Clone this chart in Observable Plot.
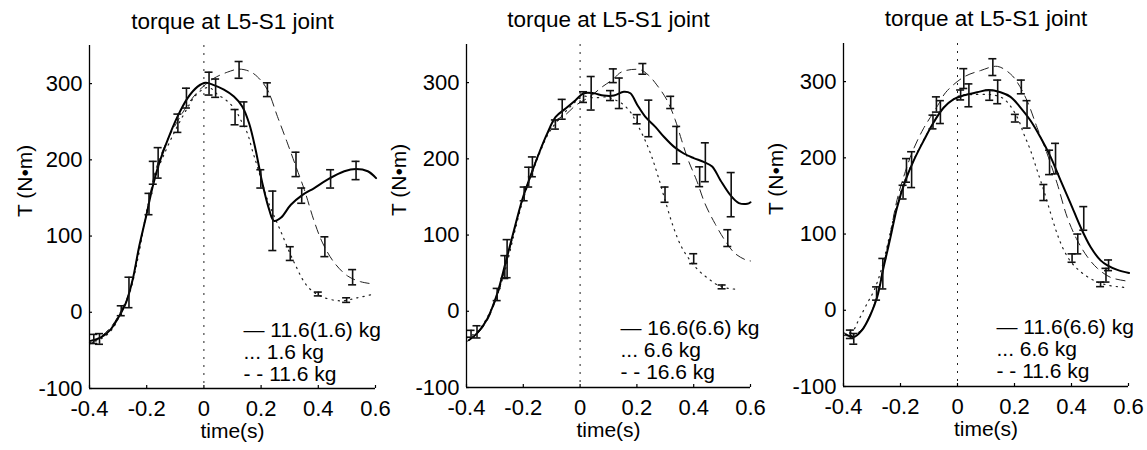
<!DOCTYPE html>
<html>
<head>
<meta charset="utf-8">
<script src="https://cdn.jsdelivr.net/npm/d3@7"></script>
<script src="https://cdn.jsdelivr.net/npm/@observablehq/plot@0.6"></script>
<style>
  html, body { margin: 0; padding: 0; background: #fff; }
  #wrap { position: relative; width: 1147px; height: 450px; overflow: hidden; background: #fff; }
  .pane { position: absolute; top: 0; }
  svg { overflow: visible; }
</style>
</head>
<body>
<div id="wrap"></div>
<script>
// ---------- shared labels / ticks ----------
const title = "torque at L5-S1 joint";
const xLabel = "time(s)";
const yLabel = "T (N\u2022m)";
const xDomain = [-0.4, 0.6];
const yDomain = [-100, 350];
const xTicks = [-0.4, -0.2, 0, 0.2, 0.4, 0.6];
const xTickLabels = ["-0.4", "-0.2", "0", "0.2", "0.4", "0.6"];
const yTicks = [-100, 0, 100, 200, 300];
const yTickLabels = ["-100", "0", "100", "200", "300"];

// ---------- panel 1 : 11.6(1.6) kg ----------
const p1Legend = ["\u2014 11.6(1.6) kg", "... 1.6 kg", "- - 11.6 kg"];
const p1Solid = [[-0.396,-37.5],[-0.36,-33],[-0.325,-22],[-0.296,-5],[-0.272,13],[-0.249,43],[-0.226,87],[-0.202,126],[-0.179,165],[-0.156,196],[-0.127,226],[-0.092,257],[-0.057,281],[-0.022,296],[0.006,301],[0.035,298],[0.070,292],[0.105,283],[0.134,270],[0.158,248],[0.181,213],[0.204,170],[0.228,135],[0.245,120],[0.269,124],[0.304,141],[0.345,154],[0.386,163],[0.432,174],[0.491,185],[0.532,188],[0.573,185],[0.602,176]];
const p1Dotted = [[-0.4,-40],[-0.36,-35],[-0.32,-22],[-0.29,0],[-0.26,25],[-0.23,72],[-0.2,133],[-0.17,178],[-0.13,215],[-0.09,246],[-0.05,273],[-0.035,282],[-0.006,292],[0.018,295],[0.047,286],[0.082,277],[0.111,265],[0.128,253],[0.152,235],[0.169,213],[0.187,191],[0.222,148],[0.269,106],[0.316,65],[0.362,34],[0.409,21],[0.479,15],[0.537,19],[0.596,24]];
const p1Dashed = [[-0.4,-42],[-0.36,-32],[-0.32,-17],[-0.29,2],[-0.26,27],[-0.23,78],[-0.2,130],[-0.17,185],[-0.13,224],[-0.09,252],[-0.05,276],[-0.02,290],[0.0,297],[0.035,307],[0.082,315],[0.123,319],[0.16,316],[0.187,309],[0.222,292],[0.257,257],[0.292,222],[0.322,191],[0.351,161],[0.386,119],[0.415,91],[0.456,65],[0.503,47.5],[0.549,40],[0.596,37]];
const p1SolidBars = [[-0.365,-35,7],[-0.262,26,20],[-0.160,196,20],[-0.061,281,13],[0.041,294,12],[0.140,260,16],[0.241,120,39],[0.342,153,10],[0.443,175,12],[0.532,186,12]];
const p1DottedBars = [[-0.385,-35,6],[-0.289,2,6.5],[-0.192,142,14],[-0.091,248,12],[0.109,256,10],[0.199,175,12],[0.302,77,9],[0.400,24,2.5],[0.499,16,3]];
const p1DashedBars = [[-0.177,183,15],[0.018,300,15],[0.123,318,11],[0.222,292,9],[0.322,194,16],[0.423,86,13],[0.520,46,10]];

// ---------- panel 2 : 16.6(6.6) kg ----------
const p2Legend = ["\u2014 16.6(6.6) kg", "... 6.6 kg", "- - 16.6 kg"];
const p2Solid = [[-0.392,-38],[-0.363,-29],[-0.327,-10],[-0.292,23],[-0.263,63],[-0.233,106],[-0.204,146],[-0.175,177],[-0.145,207],[-0.116,233],[-0.086,255],[-0.051,266],[-0.016,277],[0.013,286],[0.048,286],[0.083,283],[0.119,283],[0.154,288],[0.177,286],[0.201,271],[0.230,255],[0.265,242],[0.295,229],[0.330,216],[0.365,207],[0.400,201],[0.435,196],[0.465,190],[0.494,172],[0.530,152],[0.559,142],[0.589,141],[0.600,143]];
const p2Dotted = [[-0.4,-35],[-0.363,-27],[-0.327,-8],[-0.292,22],[-0.263,55],[-0.233,100],[-0.204,142],[-0.175,175],[-0.145,205],[-0.116,230],[-0.086,247],[-0.051,262],[-0.016,275],[0.013,282],[0.048,280],[0.095,281],[0.125,277],[0.146,273],[0.176,262],[0.199,247],[0.228,225],[0.252,203],[0.275,176.5],[0.299,146],[0.328,111],[0.357,84.5],[0.387,67],[0.416,54],[0.451,43],[0.486,34],[0.521,30],[0.553,29]];
const p2Dashed = [[-0.4,-40],[-0.363,-30],[-0.327,-12],[-0.292,20],[-0.263,58],[-0.233,104],[-0.204,145],[-0.175,178],[-0.145,208],[-0.116,232],[-0.086,250],[-0.051,258],[-0.016,270],[0.036,282],[0.08,295],[0.115,304],[0.146,314],[0.21,317],[0.24,310],[0.27,297],[0.306,277],[0.335,251],[0.357,225],[0.381,198],[0.41,172],[0.44,141],[0.475,115],[0.51,93],[0.545,76],[0.586,67],[0.6,66]];
const p2SolidBars = [[-0.363,-27,8],[-0.257,69,25],[-0.168,189.5,13],[-0.063,265,13],[0.039,286,22],[0.138,286,20],[0.242,253,24],[0.340,218,24.5],[0.441,195.5,25.5],[0.532,153,29]];
const p2DottedBars = [[-0.384,-29.5,4.5],[-0.292,22,8],[-0.197,154,9],[-0.087,245,6],[0.012,281,7],[0.107,283,6.5],[0.201,252,6],[0.299,153,10],[0.400,69,6.5],[0.500,32,2.5]];
const p2DashedBars = [[-0.265,58,15],[-0.181,176,13],[0.117,309,9],[0.221,318,7],[0.319,274,8],[0.421,176.5,13],[0.520,96,11]];

// ---------- panel 3 : 11.6(6.6) kg ----------
const p3Legend = ["\u2014 11.6(6.6) kg", "... 6.6 kg", "- - 11.6 kg"];
const p3Solid = [[-0.393,-31.4],[-0.364,-35],[-0.335,-26],[-0.306,-6.5],[-0.282,17],[-0.259,57],[-0.235,96],[-0.212,135],[-0.183,170],[-0.153,197],[-0.118,223],[-0.083,247],[-0.048,266],[-0.013,277],[0.022,282],[0.069,286],[0.110,289],[0.151,286],[0.186,280],[0.221,266],[0.256,249],[0.291,227],[0.327,201],[0.362,170],[0.397,140],[0.432,109],[0.467,83],[0.502,65.5],[0.526,59],[0.561,53],[0.602,49]];
const p3Dotted = [[-0.4,-30],[-0.37,-28],[-0.347,-13],[-0.317,9],[-0.294,25],[-0.27,50],[-0.24,95],[-0.212,140],[-0.183,172],[-0.153,198],[-0.118,224],[-0.083,247],[-0.048,266],[-0.013,277],[0.011,282],[0.05,283],[0.113,283],[0.15,280],[0.175,273],[0.21,253],[0.233,231],[0.256,210],[0.28,183],[0.303,157],[0.327,127],[0.35,100],[0.373,79],[0.397,64],[0.426,52.5],[0.456,44],[0.491,37],[0.526,33],[0.561,31],[0.585,30]];
const p3Dashed = [[-0.4,-33],[-0.37,-33],[-0.335,-25],[-0.306,-5],[-0.282,20],[-0.259,60],[-0.235,102],[-0.212,145],[-0.183,182],[-0.156,210],[-0.12,238],[-0.087,258],[-0.064,272],[-0.041,286],[0.022,306],[0.081,314.5],[0.14,320],[0.186,310],[0.21,299],[0.244,275],[0.279,240],[0.315,205],[0.35,166],[0.385,122],[0.42,92],[0.456,70],[0.491,55],[0.538,43],[0.602,38]];
const p3SolidBars = [[-0.364,-37.5,7],[-0.262,48,20],[-0.161,184.5,23.5],[-0.060,260,15],[0.040,282,15],[0.141,286.5,15.5],[0.244,257,18],[0.344,199,20],[0.443,120.5,15.5],[0.530,59,7]];
const p3DottedBars = [[-0.376,-31.5,5.5],[-0.284,22,8.7],[-0.191,155,9],[-0.086,247,9],[0.011,282.5,6.5],[0.113,282,6.5],[0.203,252,5],[0.303,154.5,10.5],[0.402,68.5,5.5],[0.502,34,3]];
const p3DashedBars = [[-0.179,183.5,15.5],[-0.074,270,10],[0.022,304,13],[0.124,319,11],[0.224,293,9],[0.323,194,16],[0.422,87,13],[0.521,46,9]];

// ---------- helpers ----------
const pts = a => a.map(([t, T]) => ({t, T}));
const bars = a => a.map(([t, m, s]) => ({t, lo: m - s, hi: m + s}));
const FONT = "'Liberation Sans', Arial, Helvetica, sans-serif";

function errorMarks(data) {
  const b = bars(data);
  const o = {stroke: "#111", strokeWidth: 1.6};
  return [
    Plot.ruleX(b, {x: "t", y1: "lo", y2: "hi", ...o}),
    Plot.ruleY(b, {y: "lo", x1: "t", x2: "t", insetLeft: -4, insetRight: -4, ...o}),
    Plot.ruleY(b, {y: "hi", x1: "t", x2: "t", insetLeft: -4, insetRight: -4, ...o})
  ];
}

function panel(cfg) {
  const {width, ml, mr, mt, mb, titleDy, yLabDx, legDx, legDy, legend} = cfg;
  return Plot.plot({
    width, height: 450,
    marginLeft: ml, marginRight: mr, marginTop: mt, marginBottom: mb,
    style: {fontFamily: FONT, background: "transparent", color: "#000", overflow: "visible"},
    x: {domain: xDomain},
    y: {domain: yDomain},
    marks: [
      Plot.ruleX([0], {stroke: "#222", strokeWidth: 1, strokeDasharray: "2,6"}),
      Plot.line(pts(cfg.dotted), {x: "t", y: "T", curve: "catmull-rom", stroke: "#222", strokeWidth: 1.2, strokeDasharray: "1.3,5"}),
      Plot.line(pts(cfg.dashed), {x: "t", y: "T", curve: "catmull-rom", stroke: "#222", strokeWidth: 1, strokeDasharray: "9,6"}),
      Plot.line(pts(cfg.solid), {x: "t", y: "T", curve: "catmull-rom", stroke: "#000", strokeWidth: 2}),
      ...errorMarks(cfg.dottedBars),
      ...errorMarks(cfg.dashedBars),
      ...errorMarks(cfg.solidBars),
      Plot.ruleY([yDomain[0]], {stroke: "#000", strokeWidth: 1.3}),
      Plot.ruleX([xDomain[0]], {stroke: "#000", strokeWidth: 1.3}),
      Plot.axisX(xTicks, {tickSize: -3, tickFormat: () => "", label: null, strokeWidth: 1.2}),
      Plot.axisY(yTicks, {tickSize: -3, tickFormat: () => "", label: null, strokeWidth: 1.2}),
      Plot.axisX(xTicks, {tickSize: 0, tickPadding: 12, fontSize: 22, label: null,
        tickFormat: d => xTickLabels[xTicks.indexOf(d)]}),
      Plot.axisY(yTicks, {tickSize: 0, tickPadding: 7, fontSize: 22, label: null,
        tickFormat: d => yTickLabels[yTicks.indexOf(d)]}),
      Plot.text([title], {text: d => d, frameAnchor: "top", dy: titleDy, lineAnchor: "bottom", fontSize: 22.5}),
      Plot.text([xLabel], {text: d => d, frameAnchor: "bottom", dy: 49, lineAnchor: "bottom", fontSize: 21}),
      Plot.text([yLabel], {text: d => d, frameAnchor: "left", dx: yLabDx, rotate: -90, lineAnchor: "bottom", fontSize: 21}),
      Plot.text([legend.join("\n")], {text: d => d, frameAnchor: "bottom-left", dx: legDx, dy: legDy,
        textAnchor: "start", lineAnchor: "bottom", lineHeight: 1.03, fontSize: 21})
    ]
  });
}

const panels = [
  {left: 0, width: 382, ml: 89, mr: 7, mt: 45, mb: 62, titleDy: -17, yLabDx: -58, legDx: 154, legDy: -8,
   legend: p1Legend, solid: p1Solid, dotted: p1Dotted, dashed: p1Dashed,
   solidBars: p1SolidBars, dottedBars: p1DottedBars, dashedBars: p1DashedBars},
  {left: 382, width: 382, ml: 84, mr: 14, mt: 44, mb: 63, titleDy: -18, yLabDx: -61, legDx: 154, legDy: -9,
   legend: p2Legend, solid: p2Solid, dotted: p2Dotted, dashed: p2Dashed,
   solidBars: p2SolidBars, dottedBars: p2DottedBars, dashedBars: p2DashedBars},
  {left: 764, width: 383, ml: 79, mr: 19, mt: 43, mb: 64, titleDy: -18, yLabDx: -61, legDx: 153, legDy: -9,
   legend: p3Legend, solid: p3Solid, dotted: p3Dotted, dashed: p3Dashed,
   solidBars: p3SolidBars, dottedBars: p3DottedBars, dashedBars: p3DashedBars}
];

const wrap = document.getElementById("wrap");
for (const cfg of panels) {
  const div = document.createElement("div");
  div.className = "pane";
  div.style.left = cfg.left + "px";
  div.appendChild(panel(cfg));
  wrap.appendChild(div);
}
</script>
</body>
</html>
